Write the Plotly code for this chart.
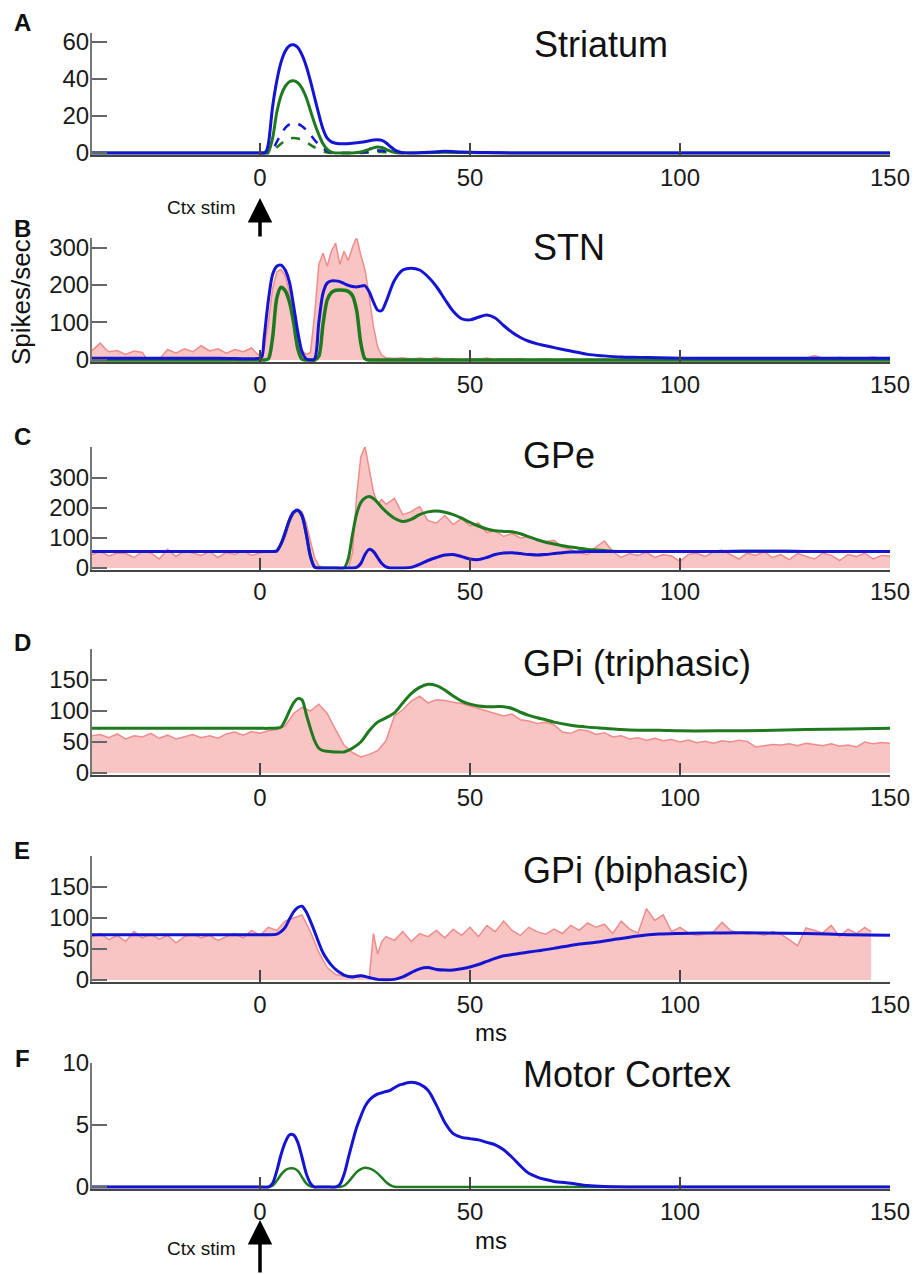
import plotly.graph_objects as go

W, H = 917, 1274

# ---------------- DATA ----------------
# Panel A  Striatum
a_x = [-40, 0, 1, 1.5, 2, 3, 4, 5, 6, 7, 8, 9, 10, 11, 12, 13, 14, 15, 16, 17, 18, 20, 22, 24, 26,
       27, 28, 29, 30, 31, 32, 33, 34, 36, 40, 44, 48, 52, 56, 60, 150]
a_blue = [0, 0, 0, 1, 5, 25, 39, 49, 55, 58, 58.5, 57, 53, 47, 39, 30, 21, 13, 8, 6, 5.3, 5, 5.3, 5.8, 6.6,
          7, 7.2, 6.8, 5.5, 3.5, 1.8, 0.7, 0.2, 0, 0.4, 0.9, 0.5, 0.3, 0.2, 0, 0]
a_green = [0, 0, 0, 0, 0.5, 8, 22, 31, 36, 38.5, 39, 38, 35, 30, 23, 16, 10, 5, 2, 0.5, 0, 0, 0, 0.5, 2,
           2.8, 3.3, 3, 2, 1, 0.4, 0.1, 0, 0, 0.2, 0.4, 0.3, 0.2, 0.1, 0, 0]
a_dx = [0, 1, 2, 3, 4, 5, 6, 7, 8, 9, 10, 11, 12, 13, 14, 15, 16, 17, 18, 20, 22, 24, 26, 27, 28, 29, 30,
        31, 32, 33, 34, 36]
a_blue_dash = [0, 0, 0, 1.5, 6, 10, 13.5, 15.5, 16.2, 15.8, 14.5, 12.5, 10, 7, 4.5, 2.5, 1, 0.3, 0, 0, 0,
               0.2, 0.8, 1.2, 1.4, 1.3, 1, 0.6, 0.3, 0.1, 0, 0]
a_green_dash = [0, 0, 0, 0.8, 3, 5, 6.8, 7.8, 8.1, 7.8, 7, 5.8, 4.4, 3, 1.8, 0.8, 0.3, 0, 0, 0, 0,
                0, 0.3, 0.5, 0.6, 0.5, 0.4, 0.2, 0.1, 0, 0, 0]

# Panel B  STN
b_x = [-40, -10, 0, 0.5, 1, 2, 3, 4, 5, 6, 7, 8, 9, 10, 11, 12, 13, 14, 15, 16, 17, 18, 19, 20,
       21, 22, 23, 24, 25, 26, 27, 28, 29, 30, 32, 34, 36, 38, 40, 42, 44, 46, 48, 50, 52, 54, 56, 58,
       60, 62, 64, 66, 68, 70, 74, 78, 82, 86, 90, 95, 100, 110, 120, 130, 140, 150]
b_blue = [5, 5, 5, 10, 60, 160, 228, 250, 253, 240, 208, 145, 75, 22, 3, 0, 3, 100, 178, 205, 211, 211, 209, 204,
          199, 196, 195, 197, 198, 182, 155, 133, 132, 155, 212, 240, 245, 240, 222, 196, 162, 130, 110, 107,
          114, 120, 112, 92, 74, 60, 50, 43, 38, 33, 24, 15, 11, 8, 7, 6, 5, 5, 5, 5, 5, 5]
b_green = [0, 0, 0, 0, 0, 3, 60, 165, 194, 185, 155, 100, 30, 2, 0, 0, 0, 10, 95, 160, 180, 186, 187, 186,
           183, 172, 133, 45, 3, 0, 0, 0, 0, 0, 0, 0, 0, 0, 0, 0, 0, 0, 0, 0, 0, 0, 0, 0,
           0, 0, 0, 0, 0, 0, 0, 0, 0, 0, 0, 0, 0, 0, 0, 0, 0, 0]
b_hist_x = [-40, -39, -38, -37, -36, -34, -32, -30, -28, -27, -26, -24, -23, -22, -20, -18, -16, -14, -12, -10,
            -8, -6, -4, -2, -1, 0, 1, 2, 3, 4, 5, 6, 7, 8, 9, 10, 11, 12, 13, 14, 15, 16, 17, 18, 19, 20,
            21, 22, 23, 24, 25, 26, 27, 28, 29, 30, 32, 34, 36, 38, 40, 42, 44, 46, 48, 50, 52, 54, 56, 58,
            60, 62, 64, 66, 68, 70, 72, 74, 76, 78, 80, 82, 84, 86, 88, 90, 92, 94, 96, 98, 100, 102, 104,
            106, 108, 110, 112, 114, 116, 118, 120, 122, 124, 126, 128, 130, 132, 134, 136, 138, 140, 142,
            144, 146, 148, 150]
b_hist = [25, 35, 45, 32, 22, 25, 15, 24, 20, 3, 2, 2, 15, 28, 18, 30, 22, 38, 24, 30,
          18, 28, 22, 32, 20, 10, 30, 100, 190, 235, 242, 225, 180, 120, 60, 25, 15, 20, 120, 255, 285, 250,
          290, 312, 255, 290, 265, 300, 328, 280, 240, 170, 90, 35, 12, 6, 4, 6, 2, 5, 3, 6, 2, 4, 1, 3, 2,
          5, 1, 3, 2, 4, 1, 2, 3, 1, 2, 3, 1, 2, 1, 3, 1, 2, 1, 2, 1, 3, 1, 2, 1, 2, 3, 1, 2, 1, 3, 2, 1, 2,
          3, 1, 2, 3, 2, 4, 12, 5, 3, 7, 4, 6, 5, 8, 5, 7]

# Panel C  GPe
c_x = [-40, 0, 2, 3, 4, 5, 6, 7, 8, 9, 10, 11, 12, 13, 14, 16, 18, 20, 21, 22, 23, 24, 25, 26, 27, 28,
       29, 30, 31, 32, 34, 36, 38, 40, 42, 44, 46, 48, 50, 52, 54, 56, 58, 60, 62, 64, 66, 68, 70, 72,
       74, 76, 78, 80, 82, 84, 88, 95, 100, 110, 120, 130, 140, 150]
c_blue = [55, 55, 55, 55, 57, 80, 118, 160, 186, 193, 175, 115, 40, 3, 0, 0, 0, 0, 0, 0, 2, 15, 45, 62, 55, 35,
          15, 4, 0, 0, 0, 2, 12, 25, 35, 43, 45, 38, 30, 28, 35, 45, 50, 51, 48, 45, 43, 45, 48, 51,
          53, 54, 55, 55, 55, 55, 55, 55, 55, 55, 56, 55, 55, 55]
c_green = [55, 55, 55, 55, 57, 80, 118, 159, 185, 191, 173, 113, 39, 3, 0, 0, 0, 0, 30, 110, 180, 218, 233, 238,
           232, 218, 202, 188, 176, 166, 155, 162, 178, 187, 190, 186, 178, 166, 152, 140, 130, 124, 122, 121,
           114, 104, 94, 86, 80, 74, 70, 66, 62, 60, 58, 56, 55, 55, 55, 55, 56, 55, 55, 55]
c_hist_x = [-40, -38, -36, -34, -32, -30, -28, -26, -24, -22, -20, -18, -16, -14, -12, -10, -8, -6, -4, -2, 0,
            2, 4, 6, 7, 8, 9, 10, 11, 12, 13, 14, 15, 16, 17, 18, 19, 20, 21, 22, 23, 24, 25, 26, 27, 28, 29,
            30, 32, 34, 36, 38, 40, 42, 44, 46, 48, 50, 52, 54, 56, 58, 60, 62, 64, 66, 68, 70, 72, 74, 76,
            78, 80, 82, 84, 86, 88, 90, 92, 94, 96, 98, 100, 102, 104, 106, 108, 110, 112, 114, 116, 118,
            120, 122, 124, 126, 128, 130, 132, 134, 136, 138, 140, 142, 144, 146, 148, 150]
c_hist = [45, 55, 40, 50, 48, 35, 55, 50, 30, 62, 38, 58, 50, 42, 55, 35, 52, 45, 58, 42, 50, 55, 60, 100,
          150, 180, 192, 188, 150, 90, 35, 8, 0, 0, 0, 0, 0, 0, 0, 50, 240, 370, 405, 330, 255, 215, 228, 212,
          232, 178, 188, 205, 158, 150, 175, 145, 165, 140, 150, 118, 125, 105, 115, 100, 105, 95, 88, 92,
          70, 62, 50, 45, 70, 90, 55, 35, 48, 42, 52, 35, 45, 40, 22, 45, 50, 38, 55, 60, 45, 30, 50, 42,
          55, 35, 45, 28, 48, 40, 30, 50, 42, 25, 45, 38, 50, 30, 42, 40]

# Panel D  GPi (triphasic)
d_x = [-40, 0, 2, 4, 5, 6, 7, 8, 9, 10, 11, 12, 13, 14, 15, 16, 18, 20, 22, 24, 26, 28, 30, 32, 34, 36,
       38, 40, 42, 44, 46, 48, 50, 52, 54, 56, 58, 60, 62, 64, 66, 68, 70, 74, 78, 82, 86, 90, 95, 100,
       110, 120, 130, 140, 150]
d_green = [72, 72, 72, 72.5, 74, 85, 100, 113, 120, 118, 95, 72, 52, 40, 36, 35, 34, 34, 40, 50, 68, 82, 89,
           97, 113, 128, 138, 143, 141, 134, 124, 116, 111, 108, 107, 107, 107, 104, 98, 93, 89, 86, 82,
           77, 74, 72, 70, 69, 69, 68, 68, 68.5, 70, 71, 72]
d_hist_x = [-40, -38, -36, -34, -32, -30, -28, -26, -24, -22, -20, -18, -16, -14, -12, -10, -8, -6, -4, -2, 0,
            2, 4, 6, 8, 10, 12, 14, 16, 18, 20, 22, 24, 26, 28, 30, 32, 34, 36, 38, 40, 42, 44, 46, 48, 50,
            52, 54, 56, 58, 60, 62, 64, 66, 68, 70, 72, 74, 76, 78, 80, 82, 84, 86, 88, 90, 92, 94, 96, 98,
            100, 102, 104, 106, 108, 110, 112, 114, 116, 118, 120, 122, 124, 126, 128, 130, 132, 134, 136,
            138, 140, 142, 144, 146, 148, 150]
d_hist = [60, 62, 57, 63, 55, 60, 58, 64, 56, 61, 55, 59, 62, 57, 60, 56, 63, 66, 61, 67, 64,
          68, 70, 76, 96, 106, 100, 111, 96, 70, 45, 33, 26, 30, 36, 52, 92, 102, 116, 124, 113, 118, 117,
          114, 112, 108, 104, 100, 96, 92, 95, 86, 84, 80, 82, 78, 66, 64, 70, 68, 62, 65, 58, 60, 55, 57,
          53, 56, 52, 54, 50, 53, 49, 51, 48, 52, 50, 53, 51, 42, 44, 46, 45, 47, 44, 48, 46, 44, 47, 43,
          45, 42, 50, 47, 49, 48]

# Panel E  GPi (biphasic)
e_x = [-40, 0, 2, 4, 5, 6, 7, 8, 9, 10, 11, 12, 13, 14, 15, 16, 17, 18, 19, 20, 22, 24, 26, 28, 30, 32,
       34, 36, 38, 40, 42, 44, 46, 48, 50, 52, 54, 56, 58, 60, 62, 64, 66, 70, 75, 80, 85, 90, 95, 100,
       110, 120, 130, 140, 150]
e_blue = [73, 73, 73, 74, 78, 85, 98, 110, 117, 119, 110, 95, 78, 60, 44, 33, 24, 17, 12, 8, 5, 7, 4, 1, 0.5,
          1, 5, 12, 18, 20, 17, 16, 16, 18, 21, 25, 30, 35, 39, 41, 43, 45, 47, 51, 57, 61, 66, 71, 74, 75,
          76, 76, 75, 73, 72]
e_hist_x = [-40, -38, -36, -34, -32, -30, -28, -26, -24, -22, -20, -18, -16, -14, -12, -10, -8, -6, -4, -2, 0,
            2, 4, 6, 8, 10, 12, 14, 16, 18, 20, 22, 24, 26, 27, 28, 29, 30, 32, 34, 36, 38, 40, 42, 44, 46,
            48, 50, 52, 54, 56, 58, 60, 62, 64, 66, 68, 70, 72, 74, 76, 78, 80, 82, 84, 86, 88, 90, 92, 94,
            96, 98, 100, 102, 104, 106, 108, 110, 112, 114, 116, 118, 120, 122, 124, 126, 128, 130, 132,
            134, 136, 138, 140, 142, 144, 145.5]
e_hist = [70, 75, 65, 72, 62, 78, 68, 74, 66, 72, 60, 70, 74, 68, 72, 64, 70, 75, 68, 80, 72,
          85, 80, 95, 100, 105, 78, 45, 20, 9, 6, 7, 8, 3, 75, 42, 62, 70, 64, 78, 62, 75, 70, 80, 68, 82,
          72, 85, 70, 88, 78, 95, 80, 72, 85, 78, 74, 82, 75, 88, 80, 92, 85, 90, 75, 95, 82, 76, 115, 96,
          105, 78, 85, 76, 72, 74, 78, 93, 80, 76, 74, 76, 72, 78, 74, 65, 55, 84, 80, 76, 88, 70, 82, 75,
          85, 78]

# Panel F  Motor Cortex
f_x = [-40, 0, 2, 3, 4, 5, 6, 7, 8, 9, 10, 11, 12, 13, 14, 16, 18, 19, 20, 21, 22, 23, 24, 25, 26, 27, 28,
       29, 30, 31, 32, 33, 34, 35, 36, 38, 40, 42, 44, 46, 48, 50, 52, 54, 56, 58, 60, 62, 64, 66, 68, 70,
       74, 78, 82, 90, 150]
f_blue = [0, 0, 0, 0.3, 1.3, 2.6, 3.6, 4.2, 4.2, 3.6, 2.4, 1.1, 0.3, 0, 0, 0, 0, 0.2, 1.0, 2.3, 3.6, 4.8, 5.7,
          6.5, 7.0, 7.3, 7.5, 7.6, 7.7, 7.8, 8.0, 8.2, 8.3, 8.4, 8.45, 8.3, 7.8, 6.6, 5.2, 4.3, 4.0, 3.9,
          3.8, 3.6, 3.4, 3.0, 2.4, 1.7, 1.1, 0.8, 0.6, 0.45, 0.3, 0.12, 0.05, 0, 0]
f_green = [0, 0, 0, 0.1, 0.5, 1.0, 1.35, 1.5, 1.5, 1.3, 0.8, 0.3, 0.05, 0, 0, 0, 0, 0, 0.1, 0.4, 0.8, 1.2,
           1.45, 1.55, 1.5, 1.35, 1.1, 0.75, 0.4, 0.15, 0.02, 0, 0, 0, 0, 0, 0, 0, 0, 0, 0, 0, 0, 0, 0, 0, 0,
           0, 0, 0, 0, 0, 0, 0, 0, 0, 0]

x_ticks = [0, 50, 100, 150]
titles = ["Striatum", "STN", "GPe", "GPi (triphasic)", "GPi (biphasic)", "Motor Cortex"]
letters = ["A", "B", "C", "D", "E", "F"]
y_ticks = [[0, 20, 40, 60], [0, 100, 200, 300], [0, 100, 200, 300, 400],
           [0, 50, 100, 150, 200], [0, 50, 100, 150, 200], [0, 5, 10]]
y_ticktext = [["0", "20", "40", "60"], ["0", "100", "200", "300"], ["0", "100", "200", "300", ""],
              ["0", "50", "100", "150", ""], ["0", "50", "100", "150", ""], ["0", "5", "10"]]

# ---------------- STYLE / LAYOUT ----------------
BLUE = "#1414d2"
GREEN = "#1f7a1f"
PINK_FILL = "#f8c4c4"
PINK_LINE = "#ef8c8c"
FONT = "Liberation Sans, Arial, Helvetica, sans-serif"

# pixel position of y=0, pixels per unit, y range
panel_geo = [(153, 1.85, -1, 65), (360, 0.375, -5, 325), (568, 0.3, -5, 403),
             (773, 0.62, -3, 200), (980, 0.62, -3, 200), (1187, 12.4, -0.15, 10)]
title_pos = [(532, 45), (531, 248), (521, 455), (521, 663), (521, 870), (521, 1074)]
letter_pos = [23, 228, 436, 642, 850, 1058]
X0, X1 = 92, 890

fig = go.Figure()


def ax_names(i):
    return ("x" if i == 0 else f"x{i+1}"), ("y" if i == 0 else f"y{i+1}")


def add(i, x, y, color, width=3, dash="solid", shape="spline", fill=None, fillcolor=None):
    assert len(x) == len(y), (i, len(x), len(y))
    xa, ya = ax_names(i)
    fig.add_trace(go.Scatter(x=x, y=y, mode="lines", xaxis=xa, yaxis=ya,
                             line=dict(color=color, width=width, dash=dash, shape=shape,
                                       smoothing=0.8 if shape == "spline" else None),
                             fill=fill, fillcolor=fillcolor, hoverinfo="skip"))


# A
add(0, a_dx, a_green_dash, GREEN, 2.5, "dash")
add(0, a_dx, a_blue_dash, BLUE, 2.5, "dash")
add(0, a_x, a_green, GREEN, 3)
add(0, a_x, a_blue, BLUE, 3)
# B
add(1, b_hist_x, b_hist, PINK_LINE, 1.5, shape="linear", fill="tozeroy", fillcolor=PINK_FILL)
add(1, b_x, b_green, GREEN, 3.5)
add(1, b_x, b_blue, BLUE, 3)
# C
add(2, c_hist_x, c_hist, PINK_LINE, 1.5, shape="linear", fill="tozeroy", fillcolor=PINK_FILL)
add(2, c_x, c_green, GREEN, 3)
add(2, c_x, c_blue, BLUE, 3)
# D
add(3, d_hist_x, d_hist, PINK_LINE, 1.5, shape="linear", fill="tozeroy", fillcolor=PINK_FILL)
add(3, d_x, d_green, GREEN, 3)
# E
add(4, e_hist_x, e_hist, PINK_LINE, 1.5, shape="linear", fill="tozeroy", fillcolor=PINK_FILL)
add(4, e_x, e_blue, BLUE, 3)
# F
add(5, f_x, f_green, GREEN, 2.5)
add(5, f_x, f_blue, BLUE, 3)

layout = dict(width=W, height=H, margin=dict(l=0, r=0, t=0, b=0, autoexpand=False), showlegend=False,
              paper_bgcolor="white", plot_bgcolor="white",
              font=dict(family=FONT, color="#1a1a1a"))
annotations = []
for i in range(6):
    z, s, lo, hi = panel_geo[i]
    top_px = z - hi * s
    bot_px = z - lo * s
    xa, ya = ax_names(i)
    xkey = "xaxis" if i == 0 else f"xaxis{i+1}"
    ykey = "yaxis" if i == 0 else f"yaxis{i+1}"
    layout[xkey] = dict(domain=[X0 / W, X1 / W], range=[-40, 150], anchor=ya,
                        tickvals=x_ticks, ticks="inside", ticklen=12, tickwidth=1.5, tickcolor="#444",
                        showline=True, linecolor="#444", linewidth=2, showgrid=False, zeroline=False,
                        automargin=False,
                        tickfont=dict(size=24, family=FONT, color="#1a1a1a"))
    layout[ykey] = dict(domain=[1 - bot_px / H, 1 - top_px / H], range=[lo, hi], anchor=xa,
                        tickvals=y_ticks[i], ticktext=y_ticktext[i], ticks="inside", ticklen=15,
                        tickwidth=1.5, tickcolor="#666", showline=True, linecolor="#777", linewidth=2,
                        showgrid=False, zeroline=False, automargin=False, ticklabelstandoff=-4,
                        tickfont=dict(size=24, family=FONT, color="#1a1a1a"))
    tx, ty = title_pos[i]
    annotations.append(dict(text=titles[i], xref="paper", yref="paper", x=tx / W, y=1 - ty / H,
                            xanchor="left", yanchor="middle", showarrow=False,
                            font=dict(size=36, family=FONT, color="#111")))
    annotations.append(dict(text=f"<b>{letters[i]}</b>", xref="paper", yref="paper", x=22 / W,
                            y=1 - letter_pos[i] / H, xanchor="center", yanchor="middle",
                            showarrow=False, font=dict(size=24, family=FONT, color="#111")))

annotations.append(dict(text="Spikes/sec", xref="paper", yref="paper", x=21 / W, y=1 - 302 / H,
                        textangle=-90, xanchor="center", yanchor="middle", showarrow=False,
                        font=dict(size=26, family=FONT, color="#111")))
for xref, ypx in (("x5", 1032), ("x6", 1240)):
    annotations.append(dict(text="ms", xref=xref, yref="paper", x=55,
                            y=1 - ypx / H, xanchor="center", yanchor="middle", showarrow=False,
                            font=dict(size=24, family=FONT, color="#111")))
# Ctx stim arrows (at stimulus time 0)
for tip_px, txt_px, tail in ((198, 207, 40), (1220, 1248, 70)):
    annotations.append(dict(text="", xref="x", yref="paper", x=0, y=1 - tip_px / H, ax=0, ay=tail,
                            showarrow=True, arrowhead=2, arrowsize=1.4, arrowwidth=3.5,
                            arrowcolor="black"))
    annotations.append(dict(text="Ctx stim", xref="paper", yref="paper", x=238 / W, y=1 - txt_px / H,
                            xanchor="right", yanchor="middle", showarrow=False,
                            font=dict(size=19, family=FONT, color="#111")))
layout["annotations"] = annotations
fig.update_layout(**layout)
fig.write_html("out.html")
